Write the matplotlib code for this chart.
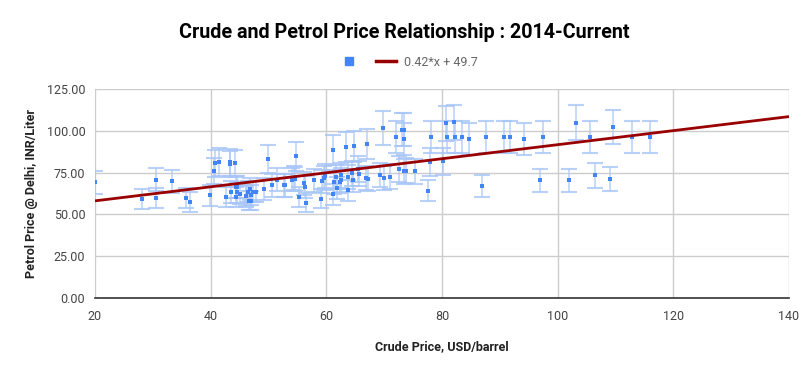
import matplotlib
matplotlib.use("Agg")
import matplotlib.pyplot as plt
from matplotlib.lines import Line2D
import numpy as np

plt.rcParams['font.family'] = ['Roboto', 'DejaVu Sans']

title = "Crude and Petrol Price Relationship : 2014-Current"
x_label = "Crude Price, USD/barrel"
y_label = "Petrol Price @ Delhi, INR/Liter"

crude = [20.0, 28.1, 30.6, 30.6, 33.3, 35.7, 36.4, 39.9, 40.5, 40.7, 41.4,
         42.6, 43.4, 43.4, 44.2, 43.5, 44.4, 44.4, 44.6, 45.1, 46.1, 46.5,
         46.6, 46.8, 47.0, 47.3, 47.9, 49.2, 49.9, 50.6, 51.5, 52.6, 52.8,
         54.1, 54.4, 54.6, 54.8, 55.2, 56.1, 56.3, 56.5, 57.8, 59.1, 59.3,
         59.6, 59.8, 61.2, 61.2, 61.4, 61.7, 61.9, 62.3, 62.5, 62.6, 63.4,
         63.7, 63.8, 64.4, 64.6, 64.8, 65.5, 65.6, 66.8, 67.1, 67.2, 69.3,
         69.8, 70.0, 71.0, 72.0, 72.5, 73.1, 73.4, 73.4, 73.5, 73.8, 75.3,
         77.6, 78.0, 78.1, 80.1, 80.7, 80.9, 82.1, 82.3, 83.5, 84.7, 86.9,
         87.6, 90.8, 91.8, 94.1, 97.0, 97.5, 102.0, 103.1, 105.6, 106.4,
         109.1, 109.6, 112.9, 116.0, 44.5, 46.1, 47.0]
petrol = [69.2, 59.2, 59.6, 70.8, 69.8, 60.0, 57.4, 61.4, 76.0, 80.6, 81.3,
          60.6, 81.2, 80.1, 80.6, 63.4, 66.4, 60.2, 63.2, 62.2, 61.2, 63.6,
          58.2, 65.0, 61.6, 63.6, 63.6, 65.1, 83.3, 67.3, 70.8, 67.3, 67.4,
          70.8, 72.0, 71.0, 84.7, 60.4, 68.6, 66.5, 56.9, 70.3, 59.5, 69.7,
          71.8, 73.0, 88.5, 62.0, 69.4, 72.4, 66.0, 69.6, 70.6, 73.4, 90.1,
          72.2, 64.4, 74.6, 70.4, 90.7, 77.0, 74.3, 72.0, 92.1, 71.0, 73.6,
          101.5, 71.6, 72.6, 96.3, 77.0, 100.7, 100.7, 95.3, 75.8, 76.2, 75.8,
          64.2, 81.3, 96.3, 81.8, 104.5, 96.5, 105.0, 96.5, 96.5, 95.1, 67.0,
          96.5, 96.5, 96.5, 95.1, 70.4, 96.5, 70.4, 104.8, 96.5, 73.4,
          71.4, 102.3, 96.5, 96.5, 66.2, 60.8, 58.3]

trend_slope = 0.42
trend_intercept = 49.7
error_pct = 10

x_ticks = [20, 40, 60, 80, 100, 120, 140]
y_ticks = [0, 25, 50, 75, 100, 125]

W, H = 808, 371
fig = plt.figure(figsize=(W / 100, H / 100), dpi=100)
ax = fig.add_axes([95 / W, 1 - 298 / H, (789 - 95) / W, (298 - 89) / H])

x = np.array(crude)
y = np.array(petrol)
err = y * error_pct / 100.0

ax.errorbar(x, y, yerr=err, fmt='none', ecolor='#a8c6f8', elinewidth=1.1,
            capsize=5.5, capthick=1.5, alpha=0.8, zorder=3)
ax.scatter(x, y, marker='s', s=5, color='#4285f4', zorder=4, linewidths=0)

xt = np.array([x_ticks[0], x_ticks[-1]], dtype=float)
ax.plot(xt, trend_slope * xt + trend_intercept, color='#990000', lw=2, zorder=5,
        solid_capstyle='butt')

ax.set_xlim(x_ticks[0], x_ticks[-1])
ax.set_ylim(y_ticks[0], y_ticks[-1])
ax.set_xticks(x_ticks)
ax.set_yticks(y_ticks)
ax.set_yticklabels([f"{v:.2f}" for v in y_ticks])
ax.grid(True, color='#cccccc', lw=1, zorder=0)
ax.set_axisbelow(True)
for s in ['top', 'right', 'left']:
    ax.spines[s].set_visible(False)
ax.spines['bottom'].set_color('#333333')
ax.spines['bottom'].set_linewidth(1.2)
ax.tick_params(axis='both', length=0, labelsize=9, colors='#444444')
ax.tick_params(axis='x', pad=9)
ax.tick_params(axis='y', pad=7)

ax.set_xlabel(x_label, fontsize=9, fontweight='bold', color='#222222', labelpad=12)
ax.set_ylabel(y_label, fontsize=9, fontweight='bold', color='#222222', labelpad=6)

fig.text(404 / W, 1 - 32 / H, title, ha='center', va='center',
         fontsize=14.2, fontweight='bold', color='#000000')

handles = [Line2D([], [], marker='s', color='#4285f4', ls='none', markersize=6),
           Line2D([], [], color='#990000', lw=2.5)]
labels = ['', f"{trend_slope}*x + {trend_intercept}"]
leg = fig.legend(handles, labels, loc='center', bbox_to_anchor=(408 / W, 1 - 62 / H),
                 ncol=2, frameon=False, fontsize=9, handlelength=1.6,
                 columnspacing=0.8, handletextpad=0.6)
for t in leg.get_texts():
    t.set_color('#666666')

fig.savefig('out.png', dpi=100)
